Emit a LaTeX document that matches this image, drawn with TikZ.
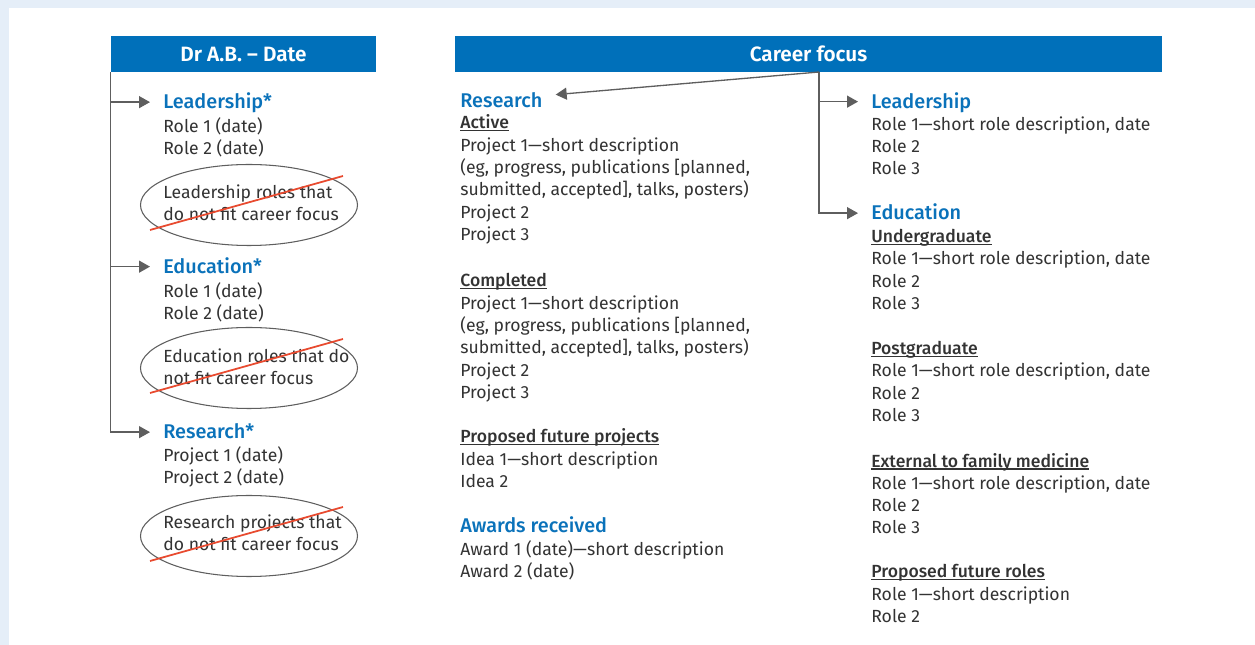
\documentclass[tikz,border=0pt]{standalone}
\usepackage{fontspec}
\setmainfont{Fira Sans}[BoldFont={Fira Sans SemiBold}]
\newfontfamily\medfont{Fira Sans Medium}
\usetikzlibrary{arrows.meta,shapes.geometric}

\definecolor{pageblue}{HTML}{E5EEF8}
\definecolor{barblue}{HTML}{0070BA}
\definecolor{headblue}{HTML}{0A72BA}
\definecolor{inkgray}{HTML}{333333}
\definecolor{linegray}{HTML}{5E5E5E}
\definecolor{strikered}{HTML}{E84A2F}

% underlined sub heading
\newcommand{\subhd}[1]{{\medfont\setbox0=\hbox{#1}\rlap{\rule[-1.4pt]{\wd0}{0.7pt}}\box0}}

\begin{document}
\begin{tikzpicture}[
    bar/.style={fill=barblue, text=white, font=\fontsize{11.8}{14}\selectfont\bfseries,
        minimum height=0.72cm, inner sep=0pt},
    head/.style={text=headblue, font=\fontsize{11.3}{14}\medfont, anchor=base west,
        inner xsep=0.26cm, inner ysep=0pt, text height=7.8pt, text depth=0pt},
    body/.style={text=inkgray, font=\fontsize{10}{12.7}\selectfont, align=left,
        anchor=base west, inner sep=0pt},
    offfocus/.style={ellipse, draw=linegray, line width=0.6pt,
        minimum width=4.34cm, minimum height=1.62cm, inner sep=0pt},
    conn/.style={draw=linegray, line width=0.75pt, -{Triangle[length=2.2mm,width=2.4mm]}},
    strike/.style={draw=strikered, line width=1pt}
]
    % Bakgrunn
    \useasboundingbox (0,0) rectangle (25.1,12.9);
    \fill[pageblue] (0,0) rectangle (25.1,12.9);
    \fill[white] (0.18,0) rectangle (25.1,12.74);

    % Overskriftsfelt
    \node[bar, minimum width=5.3cm] (hdrL) at (4.87,11.82) {Dr A.B. – Date};
    \node[bar, minimum width=14.14cm] (hdrR) at (16.17,11.82) {Career focus};

    % Venstre kolonne (tekstnoder plassert etter siste linjes grunnlinje)
    \node[head] (leadL) at (3.00,10.72) {Leadership*};
    \node[body] (leadLtxt) at (3.26,9.81) {Role 1 (date)\\Role 2 (date)};
    \node[offfocus] (offLead) at (4.98,8.80) {};
    \node[body] (offLeadTxt) at (3.26,8.48) {Leadership roles that\\do not fit career focus};
    \node[head] (eduL) at (3.00,7.43) {Education*};
    \node[body] (eduLtxt) at (3.26,6.51) {Role 1 (date)\\Role 2 (date)};
    \node[offfocus] (offEdu) at (4.98,5.54) {};
    \node[body] (offEduTxt) at (3.26,5.20) {Education roles that do\\not fit career focus};
    \node[head] (resL) at (3.00,4.12) {Research*};
    \node[body] (resLtxt) at (3.26,3.22) {Project 1 (date)\\Project 2 (date)};
    \node[offfocus] (offRes) at (4.98,2.18) {};
    \node[body] (offResTxt) at (3.26,1.89) {Research projects that\\do not fit career focus};

    % Overstrykning
    \foreach \e in {offLead,offEdu,offRes}
        \draw[strike] ([shift={(-1.98,-0.5)}]\e.center) -- ([shift={(1.88,0.58)}]\e.center);

    \foreach \h in {leadL,eduL,resL}
        \draw[conn] (hdrL.south west) |- (\h.west);

    % Midtre kolonne
    \coordinate (split) at (16.38,11.46);
    \node[head] (resM) at (8.94,10.75) {Research};
    \node[body] (active) at (9.20,8.09) {\subhd{Active}\\Project 1—short description\\(eg, progress, publications [planned,\\submitted, accepted], talks, posters)\\Project 2\\Project 3};
    \node[body] (completed) at (9.20,4.93) {\subhd{Completed}\\Project 1—short description\\(eg, progress, publications [planned,\\submitted, accepted], talks, posters)\\Project 2\\Project 3};
    \node[body] (futproj) at (9.20,3.15) {\subhd{Proposed future projects}\\Idea 1—short description\\Idea 2};
    \node[head] (awards) at (8.94,2.25) {Awards received};
    \node[body] (awardstxt) at (9.20,1.35) {Award 1 (date)—short description\\Award 2 (date)};

    % Høyre kolonne
    \node[head] (leadR) at (17.16,10.73) {Leadership};
    \node[body] (leadRtxt) at (17.42,9.40) {Role 1—short role description, date\\Role 2\\Role 3};
    \node[head] (eduR) at (17.16,8.50) {Education};
    \node[body] (ugrad) at (17.42,6.71) {\subhd{Undergraduate}\\Role 1—short role description, date\\Role 2\\Role 3};
    \node[body] (pgrad) at (17.42,4.47) {\subhd{Postgraduate}\\Role 1—short role description, date\\Role 2\\Role 3};
    \node[body] (extern) at (17.42,2.22) {\subhd{External to family medicine}\\Role 1—short role description, date\\Role 2\\Role 3};
    \node[body] (futroles) at (17.42,0.45) {\subhd{Proposed future roles}\\Role 1—short description\\Role 2};

    % Piler fra karrierefokus
    \draw[conn] (split) -- ([yshift=0.12cm]resM.east);
    \draw[conn] (split) |- (leadR.west);
    \draw[conn] (split) |- (eduR.west);
\end{tikzpicture}
\end{document}
